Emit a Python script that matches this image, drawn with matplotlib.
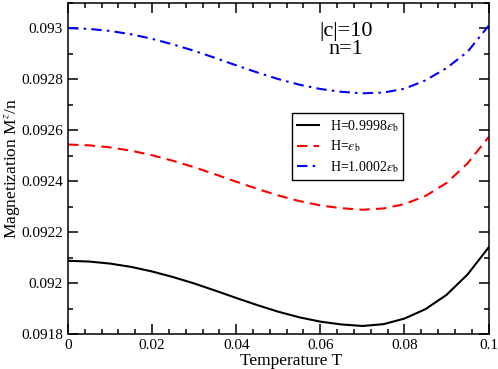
import numpy as np
import matplotlib
matplotlib.use("Agg")
import matplotlib.pyplot as plt
from matplotlib.ticker import MultipleLocator, FuncFormatter

plt.rcParams['font.family'] = ['Liberation Serif', 'DejaVu Serif']
plt.rcParams['mathtext.fontset'] = 'stix'

# temperature grid and magnetization curves
T = [0.0, 0.005, 0.01, 0.015, 0.02, 0.025, 0.03, 0.035, 0.04, 0.045, 0.05,
     0.055, 0.06, 0.065, 0.07, 0.075, 0.08, 0.085, 0.09, 0.095, 0.1]
m_low = [0.0920875, 0.0920845, 0.0920765, 0.0920635, 0.0920455, 0.0920235,
         0.0919985, 0.0919705, 0.0919415, 0.0919135, 0.0918875, 0.0918655,
         0.0918485, 0.0918375, 0.0918315, 0.0918385, 0.0918605, 0.0918975,
         0.0919535, 0.0920335, 0.0921395]
m_mid = [0.092544, 0.092541, 0.092533, 0.09252, 0.092502, 0.09248,
         0.092455, 0.092427, 0.092398, 0.09237, 0.092344, 0.092322,
         0.092305, 0.092294, 0.092288, 0.092293, 0.09231, 0.092342,
         0.092393, 0.09247, 0.092573]
m_high = [0.0930012, 0.0929982, 0.0929902, 0.0929772, 0.0929592, 0.0929372,
          0.0929122, 0.0928842, 0.0928552, 0.0928272, 0.0928012, 0.0927792,
          0.0927622, 0.0927512, 0.0927452, 0.0927482, 0.0927632, 0.0927962,
          0.0928442, 0.0929082, 0.0930102]
labels = [r'H=0.9998$\varepsilon_\mathrm{b}$',
          r'H=$\varepsilon_\mathrm{b}$',
          r'H=1.0002$\varepsilon_\mathrm{b}$']

fig = plt.figure(figsize=(4.98, 3.69), dpi=100)
ax = fig.add_axes([0.1365, 0.0949, 0.8445, 0.897])

ax.plot(T, m_low, color='black', lw=1.5, label=labels[0])
ax.plot(T, m_mid, color='red', lw=1.5, dashes=(5, 3), label=labels[1])
ax.plot(T, m_high, color='blue', lw=1.5, dashes=(5, 2.5, 1.2, 2.5), label=labels[2])

ax.set_xlim(0, 0.1)
ax.set_ylim(0.0918, 0.09310)
ax.xaxis.set_major_locator(MultipleLocator(0.02))
ax.xaxis.set_minor_locator(MultipleLocator(0.004))
ax.yaxis.set_major_locator(MultipleLocator(0.0002))
ax.yaxis.set_minor_locator(MultipleLocator(0.0001))
fmt = FuncFormatter(lambda v, p: '%g' % round(v, 6))
ax.xaxis.set_major_formatter(fmt)
ax.yaxis.set_major_formatter(fmt)
ax.tick_params(which='both', direction='in', top=True, right=True, labelsize=11, width=1.1)
ax.tick_params(which='major', length=7)
ax.tick_params(which='minor', length=3.5)
for s in ax.spines.values():
    s.set_linewidth(1.1)

ax.set_xlabel('Temperature T', fontsize=12.5)
ax.set_ylabel(r'Magnetization M$^z$/n', fontsize=12.5)
ax.xaxis.set_label_coords(0.53, -0.058, transform=ax.transAxes)
ax.yaxis.set_label_coords(-0.11, 0.5, transform=ax.transAxes)

ax.text(0.662, 0.886, '|c|=10\nn=1', transform=ax.transAxes, ha='center', va='center',
        fontsize=16, linespacing=0.95)

leg = ax.legend(loc='upper left', bbox_to_anchor=(0.533, 0.668), fontsize=10,
                fancybox=False, framealpha=1, edgecolor='black', handlelength=1.55,
                borderpad=0.35, labelspacing=0.35, borderaxespad=0)
leg.get_frame().set_linewidth(1.0)

fig.savefig('out.png', dpi=100)
